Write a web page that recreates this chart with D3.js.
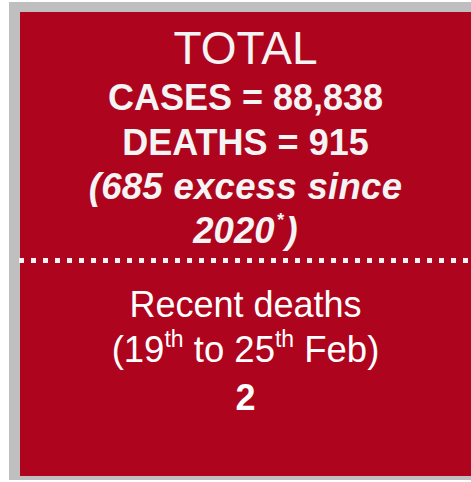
<!DOCTYPE html>
<html><head><meta charset="utf-8">
<script src="https://cdn.jsdelivr.net/npm/d3@7"></script>
<style>html,body{margin:0;padding:0;background:#fff;overflow:hidden}</style>
</head><body>
<script>
// Data
const headerLabel = ["TOTAL"];
const totalCases = [88838];
const totalDeaths = [915];
const excessDeaths = [685];
const excessSinceYear = [2020];
const recentLabel = ["Recent deaths"];
const recentPeriod = [["19", "th"], ["25", "th"], ["Feb"]];
const recentDeaths = [2];

const W = 471, H = 482;
const fmt = d3.format(",");
const svg = d3.select("body").append("svg").attr("width", W).attr("height", H);
const FONT = "'Liberation Sans', Arial, sans-serif";
const cx = 245.5;

svg.append("rect").attr("x", 9).attr("y", 2).attr("width", W).attr("height", 478).attr("fill", "#bfbfbf");
svg.append("rect").attr("x", 20).attr("y", 12).attr("width", W).attr("height", 464).attr("fill", "#af041e");

function line(txt, y, opts) {
  return svg.append("text").attr("x", cx).attr("y", y).attr("text-anchor", "middle")
    .attr("font-family", FONT).attr("font-size", opts.size)
    .attr("font-weight", opts.bold ? "bold" : "normal")
    .attr("font-style", opts.italic ? "italic" : "normal")
    .attr("letter-spacing", opts.ls || 0)
    .attr("fill", opts.fill || "#f4f4f4")
    .text(txt);
}

line(headerLabel[0], 63.5, {size: 46});
line("CASES = " + fmt(totalCases[0]), 109.5, {size: 36, bold: true});
line("DEATHS = " + fmt(totalDeaths[0]), 155, {size: 36, bold: true});
line("(" + excessDeaths[0] + " excess since", 199, {size: 36.5, bold: true, italic: true, ls: 0.3});
const t2020 = line("", 243, {size: 36.5, bold: true, italic: true});
t2020.append("tspan").text(String(excessSinceYear[0]));
t2020.append("tspan").attr("font-size", 18).attr("dy", -17).attr("dx", 2).text("*");
t2020.append("tspan").attr("dy", 17).attr("dx", 2).text(")");

// dotted separator
svg.append("line").attr("x1", 19).attr("x2", W).attr("y1", 260.5).attr("y2", 260.5)
  .attr("stroke", "#f4f4f4").attr("stroke-width", 5).attr("stroke-dasharray", "5 7");

line(recentLabel[0], 316.5, {size: 36, fill: "#fff"});
const tp = line("", 361.5, {size: 36.5, fill: "#fff"});
tp.append("tspan").text("(" + recentPeriod[0][0]);
tp.append("tspan").attr("font-size", 23).attr("dy", -15).text(recentPeriod[0][1]);
tp.append("tspan").attr("dy", 15).text(" to " + recentPeriod[1][0]);
tp.append("tspan").attr("font-size", 23).attr("dy", -15).text(recentPeriod[1][1]);
tp.append("tspan").attr("dy", 15).text(" " + recentPeriod[2][0] + ")");
line(String(recentDeaths[0]), 409.5, {size: 36, bold: true, fill: "#fff"});
</script>
</body></html>
